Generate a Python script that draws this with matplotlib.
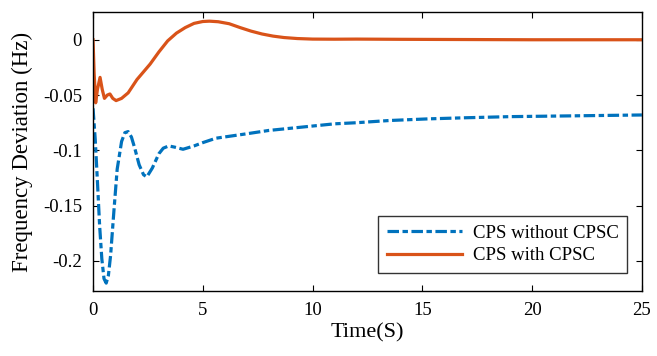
import matplotlib
matplotlib.use('Agg')
import matplotlib.pyplot as plt

plt.rcParams['font.family'] = ['Liberation Serif', 'DejaVu Serif']
plt.rcParams['axes.unicode_minus'] = False

# CPS without CPSC (dash-dot, blue)
t_without = [0, 0.1, 0.2, 0.3, 0.4, 0.5, 0.6, 0.7, 0.8, 0.95, 1.1, 1.3, 1.45, 1.6,
             1.75, 1.9, 2.1, 2.3, 2.45, 2.7, 3.0, 3.2, 3.45, 3.7, 4.1, 4.6, 5.0,
             5.6, 6.3, 7.0, 8.0, 9.0, 10.0, 11.0, 12.0, 13.5, 15.3, 17.0, 19.0,
             21.0, 23.0, 25.0]
f_without = [-0.062, -0.09, -0.128, -0.168, -0.198, -0.216, -0.22, -0.213, -0.195,
             -0.155, -0.117, -0.092, -0.084, -0.083, -0.088, -0.098, -0.113,
             -0.122, -0.124, -0.116, -0.103, -0.098, -0.096, -0.097, -0.099, -0.096,
             -0.093, -0.089, -0.087, -0.085, -0.082, -0.080, -0.078, -0.076, -0.075,
             -0.073, -0.0715, -0.0705, -0.0695, -0.069, -0.0685, -0.068]

# CPS with CPSC (solid, orange)
t_with = [0, 0.05, 0.12, 0.2, 0.32, 0.42, 0.52, 0.65, 0.77, 0.9, 1.05, 1.3, 1.6, 2.0,
          2.3, 2.6, 3.0, 3.4, 3.8, 4.2, 4.6, 5.0, 5.3, 5.7, 6.2, 6.7, 7.2, 7.7, 8.2,
          8.7, 9.3, 10.0, 11.0, 12.0, 14.0, 17.0, 20.0, 25.0]
f_with = [0, -0.03, -0.057, -0.045, -0.034, -0.045, -0.053, -0.05, -0.049, -0.053,
          -0.055, -0.053, -0.048, -0.036, -0.029, -0.022, -0.011, -0.001, 0.006,
          0.011, 0.0148, 0.0165, 0.0168, 0.0163, 0.0145, 0.011, 0.0078, 0.0052,
          0.0033, 0.002, 0.0011, 0.0006, 0.0005, 0.0006, 0.0004, 0.0002, 0.0, 0.0]

x_ticks = [0, 5, 10, 15, 20, 25]
y_ticks = [0, -0.05, -0.1, -0.15, -0.2]
y_tick_labels = ['0', '-0.05', '-0.1', '-0.15', '-0.2']

fig = plt.figure(figsize=(6.57, 3.56), dpi=100)
ax = fig.add_axes([0.1416, 0.183, 0.8354, 0.783])

ax.plot(t_without, f_without, color='#0072BD', lw=2.3, dashes=(3.6, 1.1, 1.7, 1.1),
        label='CPS without CPSC')
ax.plot(t_with, f_with, color='#D95319', lw=2.3, label='CPS with CPSC')

ax.set_xlim(0, 25)
ax.set_ylim(-0.227, 0.025)
ax.set_xticks(x_ticks)
ax.set_yticks(y_ticks)
ax.set_yticklabels(y_tick_labels)
ax.tick_params(direction='in', top=True, right=True, labelsize=13.5, length=4, pad=8)
for s in ax.spines.values():
    s.set_linewidth(1.0)

ax.set_xlabel('Time(S)', fontsize=16, labelpad=3)
ax.set_ylabel('Frequency Deviation (Hz)', fontsize=16.5, labelpad=7)

leg = ax.legend(loc='lower right', bbox_to_anchor=(0.973, 0.065), borderaxespad=0,
                fontsize=13.5, frameon=True, fancybox=False, edgecolor='black',
                handlelength=4.0, borderpad=0.45, labelspacing=0.3,
                handletextpad=0.6)
leg.get_frame().set_linewidth(1.0)

fig.savefig('out.png', dpi=100)
